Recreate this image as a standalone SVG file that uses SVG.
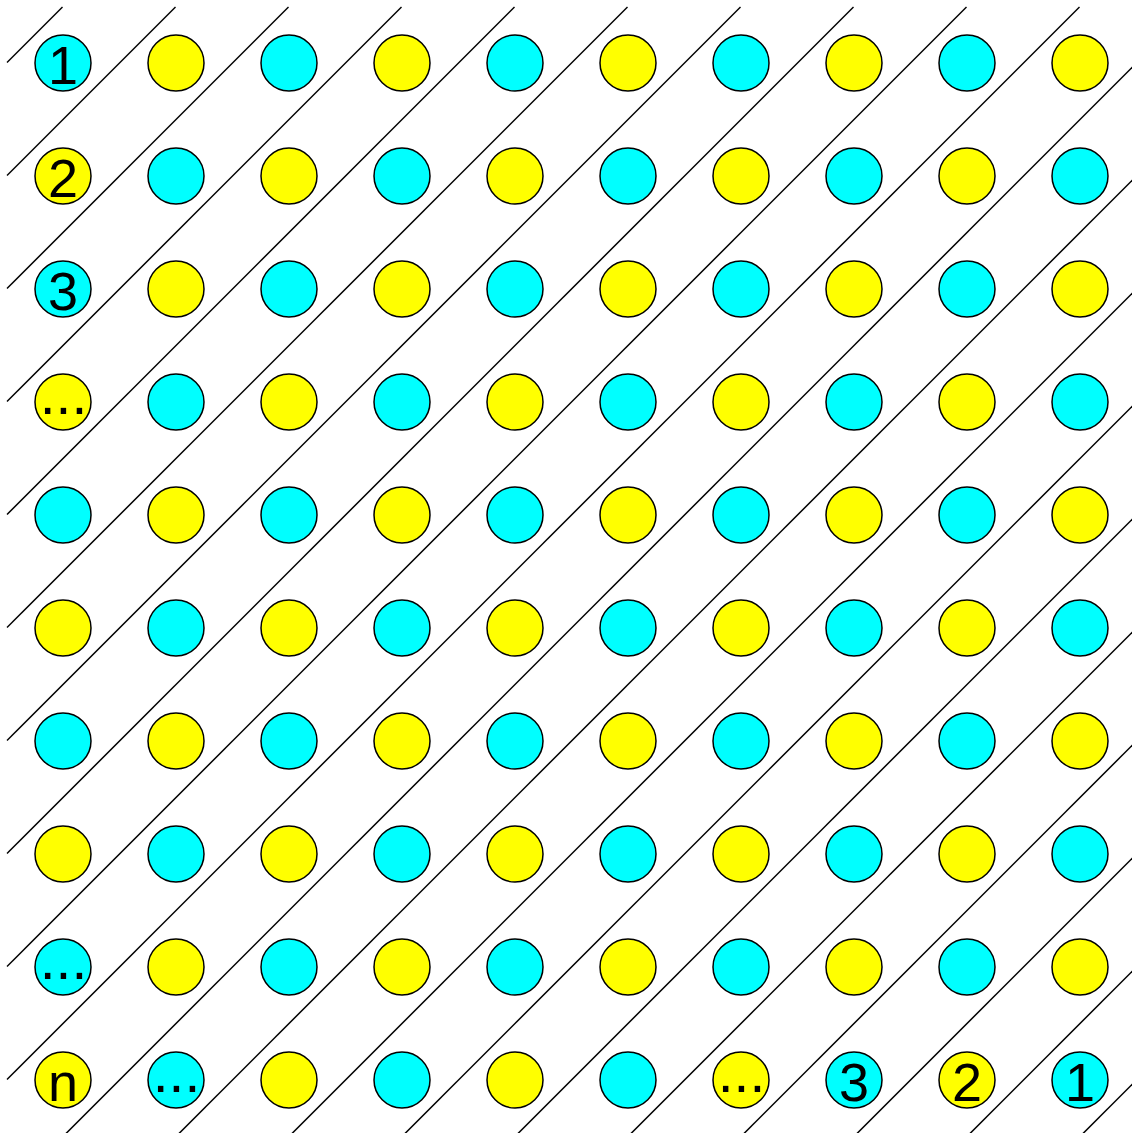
<svg xmlns="http://www.w3.org/2000/svg" width="1132" height="1133" viewBox="0 0 1132 1133">
<style>
.c{fill:#00ffff;stroke:#000;stroke-width:1.5}
.y{fill:#ffff00;stroke:#000;stroke-width:1.5}
.t{font-family:"Liberation Sans",Arial,sans-serif;font-size:54px;fill:#000;text-anchor:middle}
.d{font-family:"Liberation Sans",Arial,sans-serif;font-size:57px;fill:#000;text-anchor:middle}
.l{stroke:#000;stroke-width:1.5;fill:none}
</style>
<rect width="1132" height="1133" fill="#fff"/>
<g id="connectors">
<line class="l" x1="7" y1="62.5" x2="62.5" y2="7"/>
<line class="l" x1="7" y1="175.5" x2="175.5" y2="7"/>
<line class="l" x1="7" y1="288.5" x2="288.5" y2="7"/>
<line class="l" x1="7" y1="401.5" x2="401.5" y2="7"/>
<line class="l" x1="7" y1="514.5" x2="514.5" y2="7"/>
<line class="l" x1="7" y1="627.5" x2="627.5" y2="7"/>
<line class="l" x1="7" y1="740.5" x2="740.5" y2="7"/>
<line class="l" x1="7" y1="853.5" x2="853.5" y2="7"/>
<line class="l" x1="7" y1="966.5" x2="966.5" y2="7"/>
<line class="l" x1="7" y1="1079.5" x2="1079.5" y2="7"/>
<line class="l" x1="59.5" y1="1140" x2="1140" y2="59.5"/>
<line class="l" x1="172.5" y1="1140" x2="1140" y2="172.5"/>
<line class="l" x1="285.5" y1="1140" x2="1140" y2="285.5"/>
<line class="l" x1="398.5" y1="1140" x2="1140" y2="398.5"/>
<line class="l" x1="511.5" y1="1140" x2="1140" y2="511.5"/>
<line class="l" x1="624.5" y1="1140" x2="1140" y2="624.5"/>
<line class="l" x1="737.5" y1="1140" x2="1140" y2="737.5"/>
<line class="l" x1="850.5" y1="1140" x2="1140" y2="850.5"/>
<line class="l" x1="963.5" y1="1140" x2="1140" y2="963.5"/>
<line class="l" x1="1076.5" y1="1140" x2="1140" y2="1076.5"/>
</g>
<g id="r0c0"><circle class="c" cx="63" cy="63" r="28"/><text class="t" x="63" y="84">1</text></g>
<g id="r0c1"><circle class="y" cx="176" cy="63" r="28"/></g>
<g id="r0c2"><circle class="c" cx="289" cy="63" r="28"/></g>
<g id="r0c3"><circle class="y" cx="402" cy="63" r="28"/></g>
<g id="r0c4"><circle class="c" cx="515" cy="63" r="28"/></g>
<g id="r0c5"><circle class="y" cx="628" cy="63" r="28"/></g>
<g id="r0c6"><circle class="c" cx="741" cy="63" r="28"/></g>
<g id="r0c7"><circle class="y" cx="854" cy="63" r="28"/></g>
<g id="r0c8"><circle class="c" cx="967" cy="63" r="28"/></g>
<g id="r0c9"><circle class="y" cx="1080" cy="63" r="28"/></g>
<g id="r1c0"><circle class="y" cx="63" cy="176" r="28"/><text class="t" x="63" y="197">2</text></g>
<g id="r1c1"><circle class="c" cx="176" cy="176" r="28"/></g>
<g id="r1c2"><circle class="y" cx="289" cy="176" r="28"/></g>
<g id="r1c3"><circle class="c" cx="402" cy="176" r="28"/></g>
<g id="r1c4"><circle class="y" cx="515" cy="176" r="28"/></g>
<g id="r1c5"><circle class="c" cx="628" cy="176" r="28"/></g>
<g id="r1c6"><circle class="y" cx="741" cy="176" r="28"/></g>
<g id="r1c7"><circle class="c" cx="854" cy="176" r="28"/></g>
<g id="r1c8"><circle class="y" cx="967" cy="176" r="28"/></g>
<g id="r1c9"><circle class="c" cx="1080" cy="176" r="28"/></g>
<g id="r2c0"><circle class="c" cx="63" cy="289" r="28"/><text class="t" x="63" y="310">3</text></g>
<g id="r2c1"><circle class="y" cx="176" cy="289" r="28"/></g>
<g id="r2c2"><circle class="c" cx="289" cy="289" r="28"/></g>
<g id="r2c3"><circle class="y" cx="402" cy="289" r="28"/></g>
<g id="r2c4"><circle class="c" cx="515" cy="289" r="28"/></g>
<g id="r2c5"><circle class="y" cx="628" cy="289" r="28"/></g>
<g id="r2c6"><circle class="c" cx="741" cy="289" r="28"/></g>
<g id="r2c7"><circle class="y" cx="854" cy="289" r="28"/></g>
<g id="r2c8"><circle class="c" cx="967" cy="289" r="28"/></g>
<g id="r2c9"><circle class="y" cx="1080" cy="289" r="28"/></g>
<g id="r3c0"><circle class="y" cx="63" cy="402" r="28"/><text class="d" x="63.5" y="413.5">...</text></g>
<g id="r3c1"><circle class="c" cx="176" cy="402" r="28"/></g>
<g id="r3c2"><circle class="y" cx="289" cy="402" r="28"/></g>
<g id="r3c3"><circle class="c" cx="402" cy="402" r="28"/></g>
<g id="r3c4"><circle class="y" cx="515" cy="402" r="28"/></g>
<g id="r3c5"><circle class="c" cx="628" cy="402" r="28"/></g>
<g id="r3c6"><circle class="y" cx="741" cy="402" r="28"/></g>
<g id="r3c7"><circle class="c" cx="854" cy="402" r="28"/></g>
<g id="r3c8"><circle class="y" cx="967" cy="402" r="28"/></g>
<g id="r3c9"><circle class="c" cx="1080" cy="402" r="28"/></g>
<g id="r4c0"><circle class="c" cx="63" cy="515" r="28"/></g>
<g id="r4c1"><circle class="y" cx="176" cy="515" r="28"/></g>
<g id="r4c2"><circle class="c" cx="289" cy="515" r="28"/></g>
<g id="r4c3"><circle class="y" cx="402" cy="515" r="28"/></g>
<g id="r4c4"><circle class="c" cx="515" cy="515" r="28"/></g>
<g id="r4c5"><circle class="y" cx="628" cy="515" r="28"/></g>
<g id="r4c6"><circle class="c" cx="741" cy="515" r="28"/></g>
<g id="r4c7"><circle class="y" cx="854" cy="515" r="28"/></g>
<g id="r4c8"><circle class="c" cx="967" cy="515" r="28"/></g>
<g id="r4c9"><circle class="y" cx="1080" cy="515" r="28"/></g>
<g id="r5c0"><circle class="y" cx="63" cy="628" r="28"/></g>
<g id="r5c1"><circle class="c" cx="176" cy="628" r="28"/></g>
<g id="r5c2"><circle class="y" cx="289" cy="628" r="28"/></g>
<g id="r5c3"><circle class="c" cx="402" cy="628" r="28"/></g>
<g id="r5c4"><circle class="y" cx="515" cy="628" r="28"/></g>
<g id="r5c5"><circle class="c" cx="628" cy="628" r="28"/></g>
<g id="r5c6"><circle class="y" cx="741" cy="628" r="28"/></g>
<g id="r5c7"><circle class="c" cx="854" cy="628" r="28"/></g>
<g id="r5c8"><circle class="y" cx="967" cy="628" r="28"/></g>
<g id="r5c9"><circle class="c" cx="1080" cy="628" r="28"/></g>
<g id="r6c0"><circle class="c" cx="63" cy="741" r="28"/></g>
<g id="r6c1"><circle class="y" cx="176" cy="741" r="28"/></g>
<g id="r6c2"><circle class="c" cx="289" cy="741" r="28"/></g>
<g id="r6c3"><circle class="y" cx="402" cy="741" r="28"/></g>
<g id="r6c4"><circle class="c" cx="515" cy="741" r="28"/></g>
<g id="r6c5"><circle class="y" cx="628" cy="741" r="28"/></g>
<g id="r6c6"><circle class="c" cx="741" cy="741" r="28"/></g>
<g id="r6c7"><circle class="y" cx="854" cy="741" r="28"/></g>
<g id="r6c8"><circle class="c" cx="967" cy="741" r="28"/></g>
<g id="r6c9"><circle class="y" cx="1080" cy="741" r="28"/></g>
<g id="r7c0"><circle class="y" cx="63" cy="854" r="28"/></g>
<g id="r7c1"><circle class="c" cx="176" cy="854" r="28"/></g>
<g id="r7c2"><circle class="y" cx="289" cy="854" r="28"/></g>
<g id="r7c3"><circle class="c" cx="402" cy="854" r="28"/></g>
<g id="r7c4"><circle class="y" cx="515" cy="854" r="28"/></g>
<g id="r7c5"><circle class="c" cx="628" cy="854" r="28"/></g>
<g id="r7c6"><circle class="y" cx="741" cy="854" r="28"/></g>
<g id="r7c7"><circle class="c" cx="854" cy="854" r="28"/></g>
<g id="r7c8"><circle class="y" cx="967" cy="854" r="28"/></g>
<g id="r7c9"><circle class="c" cx="1080" cy="854" r="28"/></g>
<g id="r8c0"><circle class="c" cx="63" cy="967" r="28"/><text class="d" x="63.5" y="978.5">...</text></g>
<g id="r8c1"><circle class="y" cx="176" cy="967" r="28"/></g>
<g id="r8c2"><circle class="c" cx="289" cy="967" r="28"/></g>
<g id="r8c3"><circle class="y" cx="402" cy="967" r="28"/></g>
<g id="r8c4"><circle class="c" cx="515" cy="967" r="28"/></g>
<g id="r8c5"><circle class="y" cx="628" cy="967" r="28"/></g>
<g id="r8c6"><circle class="c" cx="741" cy="967" r="28"/></g>
<g id="r8c7"><circle class="y" cx="854" cy="967" r="28"/></g>
<g id="r8c8"><circle class="c" cx="967" cy="967" r="28"/></g>
<g id="r8c9"><circle class="y" cx="1080" cy="967" r="28"/></g>
<g id="r9c0"><circle class="y" cx="63" cy="1080" r="28"/><text class="t" x="63" y="1101">n</text></g>
<g id="r9c1"><circle class="c" cx="176" cy="1080" r="28"/><text class="d" x="176.5" y="1091.5">...</text></g>
<g id="r9c2"><circle class="y" cx="289" cy="1080" r="28"/></g>
<g id="r9c3"><circle class="c" cx="402" cy="1080" r="28"/></g>
<g id="r9c4"><circle class="y" cx="515" cy="1080" r="28"/></g>
<g id="r9c5"><circle class="c" cx="628" cy="1080" r="28"/></g>
<g id="r9c6"><circle class="y" cx="741" cy="1080" r="28"/><text class="d" x="741.5" y="1091.5">...</text></g>
<g id="r9c7"><circle class="c" cx="854" cy="1080" r="28"/><text class="t" x="854" y="1101">3</text></g>
<g id="r9c8"><circle class="y" cx="967" cy="1080" r="28"/><text class="t" x="967" y="1101">2</text></g>
<g id="r9c9"><circle class="c" cx="1080" cy="1080" r="28"/><text class="t" x="1080" y="1101">1</text></g>
</svg>
